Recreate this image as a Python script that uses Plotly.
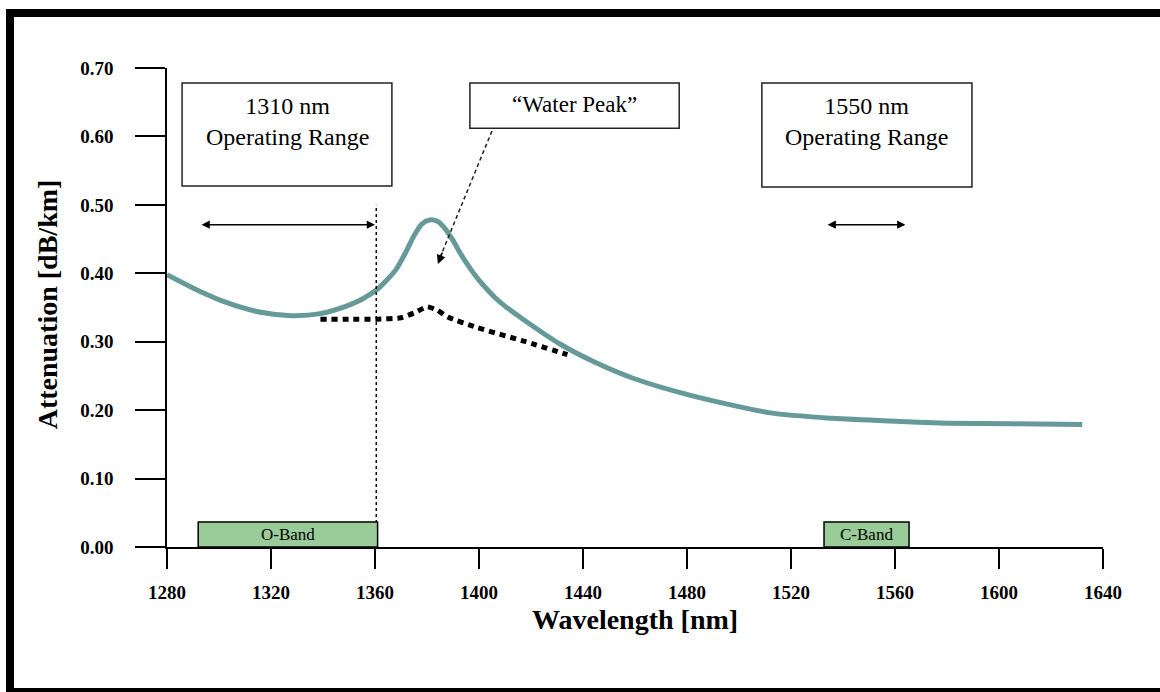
import plotly.graph_objects as go

# ---- data ----
wavelength_nm = [1280, 1293, 1303, 1316, 1328, 1339, 1349, 1355, 1361, 1364, 1368, 1372,
                 1375, 1378, 1381, 1384, 1387, 1390, 1393, 1397, 1400, 1403, 1406, 1410,
                 1418, 1431, 1444, 1459, 1481, 1512, 1536, 1558, 1580, 1605, 1632]
attenuation_db_km = [0.398, 0.373, 0.357, 0.343, 0.338, 0.341, 0.352, 0.362, 0.377, 0.388,
                     0.405, 0.432, 0.455, 0.472, 0.478, 0.476, 0.465, 0.448, 0.428, 0.405,
                     0.390, 0.377, 0.365, 0.352, 0.330, 0.297, 0.271, 0.247, 0.222, 0.196,
                     0.188, 0.184, 0.181, 0.180, 0.179]

low_water_peak_nm = [1339, 1350, 1361, 1370, 1375, 1380, 1384, 1388, 1399, 1418, 1434]
low_water_peak_att = [0.333, 0.333, 0.333, 0.335, 0.342, 0.351, 0.346, 0.336, 0.321, 0.300, 0.281]

x_ticks = [1280, 1320, 1360, 1400, 1440, 1480, 1520, 1560, 1600, 1640]
y_ticks = [0.0, 0.1, 0.2, 0.3, 0.4, 0.5, 0.6, 0.7]

bands = ["O-Band", "C-Band"]
band_start_nm = [1292, 1532.7]
band_end_nm = [1361, 1565.4]
band_top = 0.0365

cutoff_nm = 1360.5
cutoff_top = 0.50

range_labels = ["1310 nm<br>Operating Range", "1550 nm<br>Operating Range"]
range_start_nm = [1292.7, 1533.5]
range_end_nm = [1360, 1564]

SERIF = "Liberation Serif, Times New Roman, serif"
TEAL = "rgb(102,153,153)"
GREEN = "rgb(153,204,153)"

fig = go.Figure()
fig.add_trace(go.Scatter(x=wavelength_nm, y=attenuation_db_km, mode="lines",
                         line=dict(color=TEAL, width=5, shape="spline", smoothing=0.7),
                         hoverinfo="x+y"))
fig.add_trace(go.Scatter(x=low_water_peak_nm, y=low_water_peak_att, mode="lines",
                         line=dict(color="black", width=5, dash="6px,5px", shape="spline", smoothing=0.5),
                         hoverinfo="x+y"))

shapes = []
annotations = []

# cutoff dashed vertical line
shapes.append(dict(type="line", xref="x", yref="y", x0=cutoff_nm, x1=cutoff_nm, y0=0, y1=cutoff_top,
                   line=dict(color="black", width=1.5, dash="3px,3px")))

# band boxes
for name, b0, b1 in zip(bands, band_start_nm, band_end_nm):
    shapes.append(dict(type="rect", xref="x", yref="y", x0=b0, x1=b1, y0=0, y1=band_top,
                       fillcolor=GREEN, line=dict(color="black", width=1.5), layer="above"))
    annotations.append(dict(x=(b0 + b1) / 2, y=band_top / 2, xref="x", yref="y", text=name,
                            showarrow=False, font=dict(family=SERIF, size=17, color="black")))

# text boxes
boxes = [(1285.8, 1366.5, 0.5275, 0.678), (1396.5, 1477.0, 0.612, 0.678), (1508.8, 1589.6, 0.526, 0.678)]
for bx0, bx1, by0, by1 in boxes:
    shapes.append(dict(type="rect", xref="x", yref="y", x0=bx0, x1=bx1, y0=by0, y1=by1,
                       fillcolor="white", line=dict(color="#222", width=1.5)))

annotations.append(dict(x=1326.2, y=0.6225, xref="x", yref="y", text=range_labels[0], showarrow=False,
                        font=dict(family=SERIF, size=24, color="black")))
annotations.append(dict(x=1549.2, y=0.6225, xref="x", yref="y", text=range_labels[1], showarrow=False,
                        font=dict(family=SERIF, size=24, color="black")))
annotations.append(dict(x=1436.7, y=0.646, xref="x", yref="y", text="\u201cWater Peak\u201d", showarrow=False,
                        font=dict(family=SERIF, size=23, color="black")))

# operating range double arrows
for r0, r1 in zip(range_start_nm, range_end_nm):
    annotations.append(dict(x=r1, y=0.471, ax=r0, ay=0.471, xref="x", yref="y", axref="x", ayref="y",
                            text="", showarrow=True, arrowhead=2, startarrowhead=2, arrowside="end+start",
                            arrowsize=1.1, startarrowsize=1.1, arrowwidth=1.5, arrowcolor="black"))

# water peak pointer: dashed line + arrow head
shapes.append(dict(type="line", xref="x", yref="y", x0=1405, y0=0.608, x1=1385.0, y1=0.423,
                   line=dict(color="#222", width=1.5, dash="4px,3px")))
annotations.append(dict(x=1384.2, y=0.4136, ax=5, ay=-13, xref="x", yref="y",
                        text="", showarrow=True, arrowhead=2, arrowsize=1.2, arrowwidth=1.5, arrowcolor="black"))

# axis titles
annotations.append(dict(x=0.5, y=-0.1524, xref="paper", yref="paper", xanchor="center", yanchor="middle",
                        text="Wavelength [nm]", showarrow=False,
                        font=dict(family=SERIF, size=28, color="black", weight="bold")))
annotations.append(dict(x=-0.128, y=0.507, xref="paper", yref="paper", xanchor="center", yanchor="middle",
                        text="Attenuation [dB/km]", showarrow=False,
                        textangle=-90, font=dict(family=SERIF, size=28, color="black", weight="bold")))

# outer black frame (top, left, bottom)
W, H = 936.0, 479.0
def px(x): return (x - 167) / W
def py(y): return (547 - y) / H
shapes.append(dict(type="rect", xref="paper", yref="paper", x0=px(6), x1=px(1160), y0=py(17), y1=py(9),
                   fillcolor="black", line=dict(width=0), layer="above"))
shapes.append(dict(type="rect", xref="paper", yref="paper", x0=px(6), x1=px(14), y0=py(692), y1=py(9),
                   fillcolor="black", line=dict(width=0), layer="above"))
shapes.append(dict(type="rect", xref="paper", yref="paper", x0=px(6), x1=px(1160), y0=py(692), y1=py(688),
                   fillcolor="black", line=dict(width=0), layer="above"))

tickfont = dict(family=SERIF, size=19, color="black", weight="bold")
fig.update_layout(
    width=1160, height=692,
    margin=dict(l=167, r=57, t=68, b=145, autoexpand=False),
    paper_bgcolor="white", plot_bgcolor="white",
    showlegend=False,
    shapes=shapes, annotations=annotations,
    xaxis=dict(range=[1280, 1640], tickvals=x_ticks, ticks="outside", ticklen=20, tickwidth=1.5,
               tickcolor="black", showline=True, linecolor="black", linewidth=1.5, showgrid=False,
               zeroline=False, tickfont=tickfont, ticklabelstandoff=7, fixedrange=True),
    yaxis=dict(range=[0, 0.70], tickvals=y_ticks, tickformat=".2f", ticks="outside", ticklen=30,
               tickwidth=1.5, tickcolor="black", showline=True, linecolor="black", linewidth=1.5,
               showgrid=False, zeroline=False, tickfont=tickfont, ticklabelstandoff=18, fixedrange=True),
)

fig.write_html("out.html", config={"displayModeBar": False},
               post_script="document.body.style.margin='0';document.body.style.overflow='hidden';")
